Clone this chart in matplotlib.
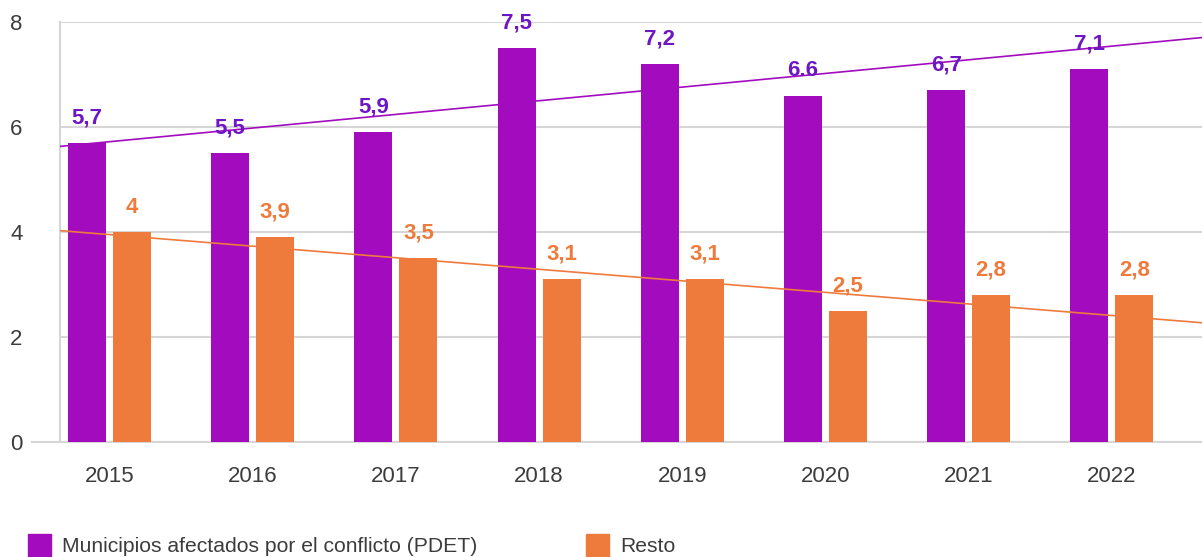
import numpy as np
import matplotlib.pyplot as plt
from matplotlib.patches import Rectangle

plt.rcParams['font.family'] = ['Liberation Sans', 'DejaVu Sans']

# datos
years = ['2015', '2016', '2017', '2018', '2019', '2020', '2021', '2022']
pdet = [5.7, 5.5, 5.9, 7.5, 7.2, 6.6, 6.7, 7.1]
resto = [4.0, 3.9, 3.5, 3.1, 3.1, 2.5, 2.8, 2.8]
pdet_labels = ['5,7', '5,5', '5,9', '7,5', '7,2', '6.6', '6,7', '7,1']
resto_labels = ['4', '3,9', '3,5', '3,1', '3,1', '2,5', '2,8', '2,8']
# líneas de tendencia (valor en cada año)
trend_pdet = [5.72, 5.98, 6.24, 6.50, 6.76, 7.02, 7.28, 7.54]
trend_resto = [3.95, 3.73, 3.51, 3.29, 3.07, 2.85, 2.63, 2.41]
legend_labels = ['Municipios afectados por el conflicto (PDET)', 'Resto']

purple = '#A30CBE'
purple_txt = '#6E16C4'
orange = '#EE7B3C'
grid_c = '#d6d6d6'
txt_c = '#3c3c3c'

fig = plt.figure(figsize=(12.02, 5.57), dpi=100)
ax = fig.add_axes([60 / 1202, 1 - 442 / 557, 1 - 60 / 1202, 420 / 557])

x = np.arange(len(years))
w = 0.265
off = 0.157
ax.bar(x - off, pdet, w, color=purple, zorder=2)
ax.bar(x + off, resto, w, color=orange, zorder=2)

xlim = (-0.346, 7.63)
ax.set_xlim(*xlim)
ax.set_ylim(0, 8)

# tendencias
xs = np.array(xlim)
for tr, c in [(trend_pdet, purple), (trend_resto, orange)]:
    m, b = np.polyfit(x, tr, 1)
    ax.plot(xs, m * xs + b, color=c, lw=1.2, zorder=3)

# etiquetas de valores
for i in range(len(years)):
    ax.annotate(pdet_labels[i], (x[i] - off, pdet[i]), xytext=(0, 14), textcoords='offset points',
                ha='center', va='baseline', fontsize=16, fontweight='bold', color=purple_txt, zorder=4)
    ax.annotate(resto_labels[i], (x[i] + off, resto[i]), xytext=(0, 14), textcoords='offset points',
                ha='center', va='baseline', fontsize=16, fontweight='bold', color=orange, zorder=4)

ax.set_yticks([0, 2, 4, 6, 8])
ax.set_xticks(x)
ax.set_xticklabels(years)
ax.tick_params(axis='both', length=0, labelsize=16, colors=txt_c)
ax.tick_params(axis='y', pad=27)
ax.tick_params(axis='x', pad=17)

ax.grid(axis='y', color=grid_c, lw=1.5, zorder=0)
ax.axhline(0, xmin=-28 / 1142, xmax=1, color=grid_c, lw=1.5, clip_on=False, zorder=1)
for s in ['top', 'right', 'bottom']:
    ax.spines[s].set_visible(False)
ax.spines['left'].set_color(grid_c)
ax.spines['left'].set_linewidth(1.5)

# leyenda
fig.add_artist(Rectangle((28 / 1202, 0), 23 / 1202, 23 / 557, color=purple, transform=fig.transFigure))
fig.text(62 / 1202, 1 - 546 / 557, legend_labels[0], fontsize=15.2, color=txt_c, va='center')
fig.add_artist(Rectangle((586 / 1202, 0), 23 / 1202, 23 / 557, color=orange, transform=fig.transFigure))
fig.text(620 / 1202, 1 - 546 / 557, legend_labels[1], fontsize=15.2, color=txt_c, va='center')

fig.savefig('out.png', dpi=100)
